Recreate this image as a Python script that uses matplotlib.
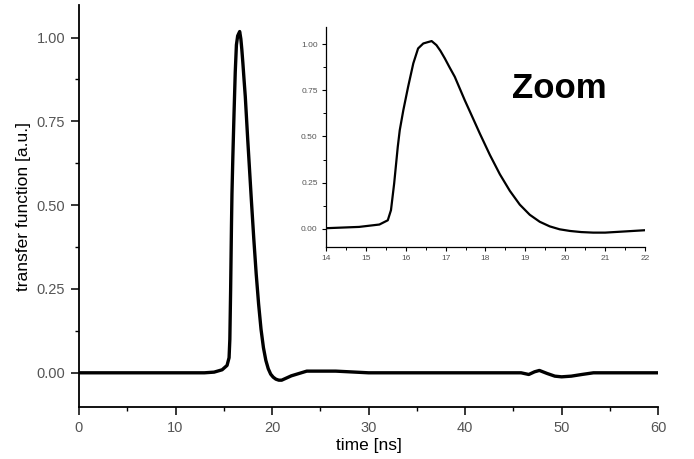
import matplotlib
matplotlib.use("Agg")
import matplotlib.pyplot as plt
from matplotlib.ticker import MultipleLocator, FormatStrFormatter

plt.rcParams['font.family'] = ['Liberation Sans', 'DejaVu Sans']

# time [ns] and transfer function [a.u.]
time = [0.0, 5.0, 10.0, 13.0, 14.0, 14.83, 15.34, 15.55, 15.63, 15.71, 15.80, 15.85,
        15.94, 16.06, 16.19, 16.31, 16.44, 16.55, 16.65, 16.77, 16.87, 16.98, 17.1,
        17.23, 17.48, 17.61, 17.86, 18.11, 18.36, 18.61, 18.86, 19.11, 19.36, 19.61,
        19.86, 20.12, 20.4, 20.7, 21.0, 21.54, 22.0, 22.8, 23.6, 26.6, 30.0, 40.0,
        45.8, 46.6, 47.2, 47.7, 48.5, 49.3, 50.0, 51.0, 52.1, 53.3, 56.0, 60.0]
signal = [0.0, 0.0, 0.0, 0.0, 0.002, 0.009, 0.022, 0.045, 0.10, 0.245, 0.443, 0.534,
          0.643, 0.770, 0.897, 0.978, 1.005, 1.012, 1.018, 0.996, 0.965, 0.924, 0.875,
          0.824, 0.697, 0.635, 0.515, 0.400, 0.295, 0.205, 0.130, 0.075, 0.037, 0.012,
          -0.004, -0.013, -0.019, -0.022, -0.022, -0.015, -0.009, -0.002, 0.005, 0.005,
          0.0, 0.0, 0.0, -0.005, 0.003, 0.007, -0.002, -0.010, -0.012, -0.010, -0.005,
          0.0, 0.0, 0.0]

main_xticks = [0, 10, 20, 30, 40, 50, 60]
main_yticks = [0.0, 0.25, 0.5, 0.75, 1.0]
inset_xticks = [14, 15, 16, 17, 18, 19, 20, 21, 22]
inset_yticks = [0.0, 0.25, 0.5, 0.75, 1.0]

tick_grey = '#555555'

fig = plt.figure(figsize=(6.94, 4.59), dpi=100)

ax = fig.add_axes([0.1138, 0.1133, 0.8345, 0.8757])
ax.plot(time, signal, color='black', lw=2.4, solid_joinstyle='round')
ax.set_xlim(0, 60)
ax.set_ylim(-0.102, 1.097)
ax.set_xticks(main_xticks)
ax.set_yticks(main_yticks)
ax.xaxis.set_minor_locator(MultipleLocator(5))
ax.yaxis.set_minor_locator(MultipleLocator(0.125))
ax.yaxis.set_major_formatter(FormatStrFormatter('%.2f'))
for s in ['top', 'right']:
    ax.spines[s].set_visible(False)
for s in ['left', 'bottom']:
    ax.spines[s].set_linewidth(1.3)
ax.tick_params(which='major', direction='out', length=6, width=1.1,
               labelsize=10.5, labelcolor=tick_grey, pad=4)
ax.tick_params(which='minor', direction='out', length=3, width=1.0)
ax.set_xlabel('time [ns]', fontsize=12.5, labelpad=2)
ax.set_ylabel('transfer function [a.u.]', fontsize=12.5, labelpad=4)

ins = fig.add_axes([0.4697, 0.4619, 0.4597, 0.4791])
ins.plot(time, signal, color='black', lw=1.6, solid_joinstyle='round')
ins.set_xlim(14, 22)
ins.set_ylim(-0.10, 1.094)
ins.set_xticks(inset_xticks)
ins.set_yticks(inset_yticks)
ins.xaxis.set_minor_locator(MultipleLocator(0.5))
ins.yaxis.set_minor_locator(MultipleLocator(0.125))
ins.yaxis.set_major_formatter(FormatStrFormatter('%.2f'))
ins.patch.set_alpha(0)
for s in ['top', 'right']:
    ins.spines[s].set_visible(False)
for s in ['left', 'bottom']:
    ins.spines[s].set_linewidth(0.9)
ins.tick_params(which='major', direction='out', length=3, width=0.8,
                labelsize=6, labelcolor=tick_grey, pad=3)
ins.tick_params(which='minor', direction='out', length=2, width=0.7)
ins.text(0.73, 0.72, 'Zoom', transform=ins.transAxes, fontsize=25,
         fontweight='bold', ha='center', va='center')

fig.savefig('out.png', dpi=100)
